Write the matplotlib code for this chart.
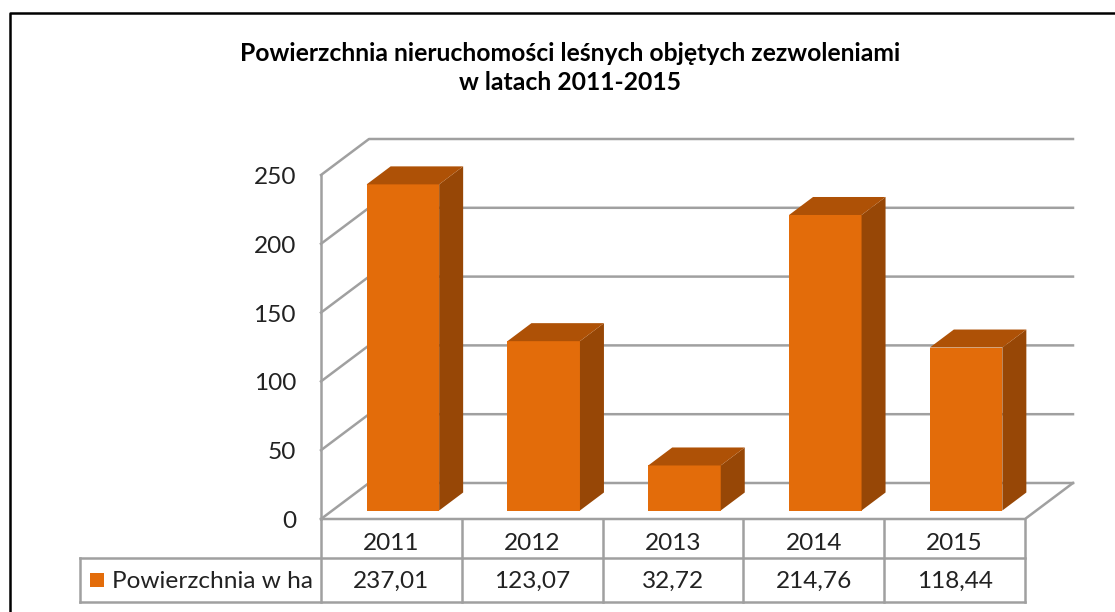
#!/usr/bin/env python3
"""Powierzchnia nieruchomości leśnych objętych zezwoleniami, 2011-2015."""
import matplotlib
matplotlib.use("Agg")
import matplotlib.pyplot as plt
from matplotlib.patches import Polygon, Rectangle

plt.rcParams["font.family"] = ["Lato", "DejaVu Sans"]

W, H = 1115, 612

years = ["2011", "2012", "2013", "2014", "2015"]
values = [237.01, 123.07, 32.72, 214.76, 118.44]
value_labels = ["237,01", "123,07", "32,72", "214,76", "118,44"]
y_ticks = [0, 50, 100, 150, 200, 250]
series_name = "Powierzchnia w ha"
title = "Powierzchnia nieruchomości leśnych objętych zezwoleniami\nw latach 2011-2015"

FRONT = "#E36C0A"
TOP = "#AE5106"
SIDE = "#974706"
GRID = "#A0A0A0"
TEXT = "#222222"
LW = 1.8
FS = 17.6

# front plane of the 3d box, in pixels
LEFT, RIGHT, BOTTOM, TOP_PX = 321, 1025, 519, 175
fig = plt.figure(figsize=(W / 100, H / 100), dpi=100, facecolor="white")
ax = fig.add_axes([LEFT / W, 1 - BOTTOM / H, (RIGHT - LEFT) / W, (BOTTOM - TOP_PX) / H])
ax.set_xlim(0, 5)
ax.set_ylim(0, 250)
ax.axis("off")

px_x = 5 / (RIGHT - LEFT)
px_y = 250 / (BOTTOM - TOP_PX)
wall_dx, wall_dy = 48 * px_x, 36 * px_y
bar_dx, bar_dy = 24 * px_x, 18 * px_y
# bars stand a bit behind the front edge of the floor
gap_dx, gap_dy = 11.5 * px_x, 8.5 * px_y
bar_w = 72.5 * px_x


def line(xs, ys, **kw):
    ax.plot(xs, ys, color=GRID, lw=LW, clip_on=False, solid_capstyle="projecting", **kw)


# walls and floor
for t in y_ticks:
    line([0, wall_dx, 5 + wall_dx], [t, t + wall_dy, t + wall_dy], zorder=1)
line([0, 0], [0, 250], zorder=1)
line([0, 5, 5 + wall_dx], [0, 0, wall_dy], zorder=1)

# bars
for i, v in enumerate(values):
    x0 = i + 0.5 - bar_w / 2 + gap_dx
    x1 = x0 + bar_w
    y0, y1 = gap_dy, gap_dy + v
    ax.bar(x0, v, width=bar_w, bottom=y0, align="edge", color=FRONT, zorder=3, clip_on=False)
    ax.add_patch(Polygon([(x1, y0), (x1 + bar_dx, y0 + bar_dy), (x1 + bar_dx, y1 + bar_dy), (x1, y1)],
                         closed=True, color=SIDE, lw=0, zorder=3, clip_on=False))
    ax.add_patch(Polygon([(x0, y1), (x0 + bar_dx, y1 + bar_dy), (x1 + bar_dx, y1 + bar_dy), (x1, y1)],
                         closed=True, color=TOP, lw=0, zorder=3, clip_on=False))

# axis labels
for t in y_ticks:
    ax.text(-25 * px_x, t - 2.5 * px_y, str(t), ha="right", va="center", fontsize=FS, color=TEXT)

# data table below the axis
row1 = -39 * px_y
row2 = -83 * px_y
table_left = (80 - LEFT) * px_x
for i in range(6):
    line([i, i], [0, row2])
line([table_left, 5], [row1, row1])
line([table_left, 5], [row2, row2])
line([table_left, table_left], [row1, row2])
for i in range(5):
    ax.text(i + 0.5, -25 * px_y, years[i], ha="center", va="center", fontsize=FS, color=TEXT)
    ax.text(i + 0.5, -62 * px_y, value_labels[i], ha="center", va="center", fontsize=FS, color=TEXT)

# legend key
ax.add_patch(Rectangle(((90 - LEFT) * px_x, -68 * px_y), 14 * px_x, 14 * px_y, color=FRONT, lw=0, clip_on=False))
ax.text((112 - LEFT) * px_x, -62 * px_y, series_name, ha="left", va="center", fontsize=FS, color=TEXT)

fig.text(570 / W, 1 - 68 / H, title, ha="center", va="center", fontsize=17.8, fontweight="bold",
         color="black", linespacing=1.33)

# outer frame
fig.add_artist(plt.Line2D([10 / W, 10 / W, 1], [0, 1 - 13 / H, 1 - 13 / H], color="black", lw=1.8))

fig.savefig("out.png", dpi=100)
